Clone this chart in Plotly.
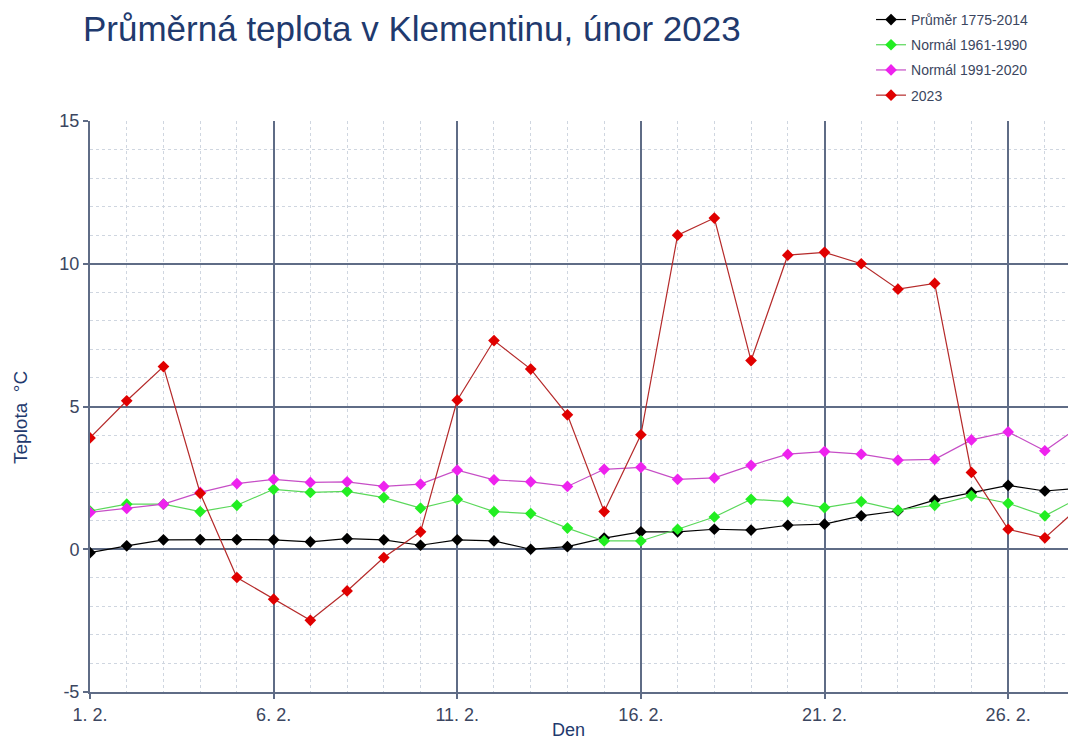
import plotly.graph_objects as go

# den v únoru 2023
days = list(range(1, 29))

# průměrné denní teploty (°C)
prumer_1775_2014 = [-0.12, 0.12, 0.33, 0.34, 0.34, 0.33, 0.26, 0.37, 0.33, 0.14,
                    0.33, 0.29, 0.0, 0.09, 0.39, 0.61, 0.61, 0.70, 0.67, 0.84,
                    0.88, 1.17, 1.34, 1.72, 1.99, 2.24, 2.04, 2.15]
normal_1961_1990 = [1.34, 1.58, 1.58, 1.32, 1.54, 2.10, 1.99, 2.03, 1.81, 1.44,
                    1.75, 1.32, 1.25, 0.74, 0.29, 0.29, 0.70, 1.13, 1.75, 1.67,
                    1.46, 1.67, 1.37, 1.54, 1.87, 1.61, 1.17, 1.85]
normal_1991_2020 = [1.29, 1.43, 1.58, 1.99, 2.30, 2.45, 2.34, 2.36, 2.20, 2.28,
                    2.77, 2.43, 2.36, 2.20, 2.80, 2.87, 2.45, 2.50, 2.94, 3.33,
                    3.42, 3.33, 3.12, 3.15, 3.83, 4.11, 3.45, 4.35]
rok_2023 = [3.9, 5.2, 6.4, 1.96, -0.99, -1.75, -2.49, -1.46, -0.29, 0.61,
            5.22, 7.31, 6.31, 4.71, 1.32, 4.01, 11.0, 11.6, 6.61, 10.3,
            10.4, 10.0, 9.11, 9.31, 2.69, 0.70, 0.40, 1.55]

tick_days = [1, 6, 11, 16, 21, 26]
tick_labels = ["1. 2.", "6. 2.", "11. 2.", "16. 2.", "21. 2.", "26. 2."]
y_ticks = [-5, 0, 5, 10, 15]
y_labels = ["-5", "0", "5", "10", "15"]

series = [
    ("Průměr 1775-2014", prumer_1775_2014, "#000000", "#000000"),
    ("Normál 1961-1990", normal_1961_1990, "#5ad85a", "#22ee22"),
    ("Normál 1991-2020", normal_1991_2020, "#c64ec6", "#ee22ee"),
    ("2023", rok_2023, "#b52a2a", "#e00000"),
]

fig = go.Figure()
for i, (name, vals, lc, mc) in enumerate(series):
    fig.add_trace(go.Scatter(
        x=days, y=vals, name=name, mode="lines+markers",
        line=dict(color=lc, width=1.2),
        marker=dict(symbol="diamond", size=9, color=mc),
        legendgroup=str(i)))

grid_major = "#5f6c86"
grid_minor = "#cfd6e0"
text_col = "#1f3a6e"
tick_font = dict(family="Liberation Sans, Arial, sans-serif", size=18, color="#3b4660")

# stránka má okraj 8 px, proto je figura o 16 px menší než okno
fig.update_layout(
    width=1060, height=733,
    margin=dict(l=82, r=0, t=113, b=49, autoexpand=False),
    paper_bgcolor="white", plot_bgcolor="white",
    font=dict(family="Liberation Sans, Arial, sans-serif"),
    title=dict(text="Průměrná teplota v Klementinu, únor 2023",
               x=75 / 1060, xanchor="left", y=1 - 21 / 733, yanchor="middle",
               font=dict(size=35, color=text_col)),
    legend=dict(x=0.7986, y=1.205, xanchor="left", yanchor="top",
                font=dict(size=14, color="#3b4660"),
                tracegroupgap=4, bgcolor="rgba(0,0,0,0)"),
    showlegend=True,
    annotations=[
        dict(text="Den", xref="paper", yref="paper", x=0.4888, y=-0.067,
             xanchor="center", yanchor="middle", showarrow=False,
             font=dict(size=18, color=text_col)),
        dict(text="Teplota  °C", xref="paper", yref="paper", x=-0.0716, y=0.4816,
             xanchor="center", yanchor="middle", showarrow=False, textangle=-90,
             font=dict(size=19, color=text_col)),
    ],
)

fig.update_xaxes(
    range=[1, 27.63], tickvals=tick_days, ticktext=tick_labels,
    showgrid=True, gridcolor=grid_major, gridwidth=1.5,
    minor=dict(tickmode="linear", tick0=1, dtick=1, showgrid=True,
               gridcolor=grid_minor, griddash="dot", gridwidth=1),
    showline=True, linecolor=grid_major, linewidth=2,
    ticks="outside", ticklen=5, tickcolor=grid_major, tickwidth=1.5,
    tickfont=tick_font, zeroline=False,
)
fig.update_yaxes(
    range=[-5, 15], tickvals=y_ticks, ticktext=y_labels,
    showgrid=True, gridcolor=grid_major, gridwidth=1.5,
    minor=dict(tickmode="linear", tick0=0, dtick=1, showgrid=True,
               gridcolor=grid_minor, griddash="dot", gridwidth=1),
    showline=True, linecolor=grid_major, linewidth=2,
    ticks="outside", ticklen=5, tickcolor=grid_major, tickwidth=1.5,
    tickfont=tick_font, zeroline=False,
)

fig.write_html("out.html")
